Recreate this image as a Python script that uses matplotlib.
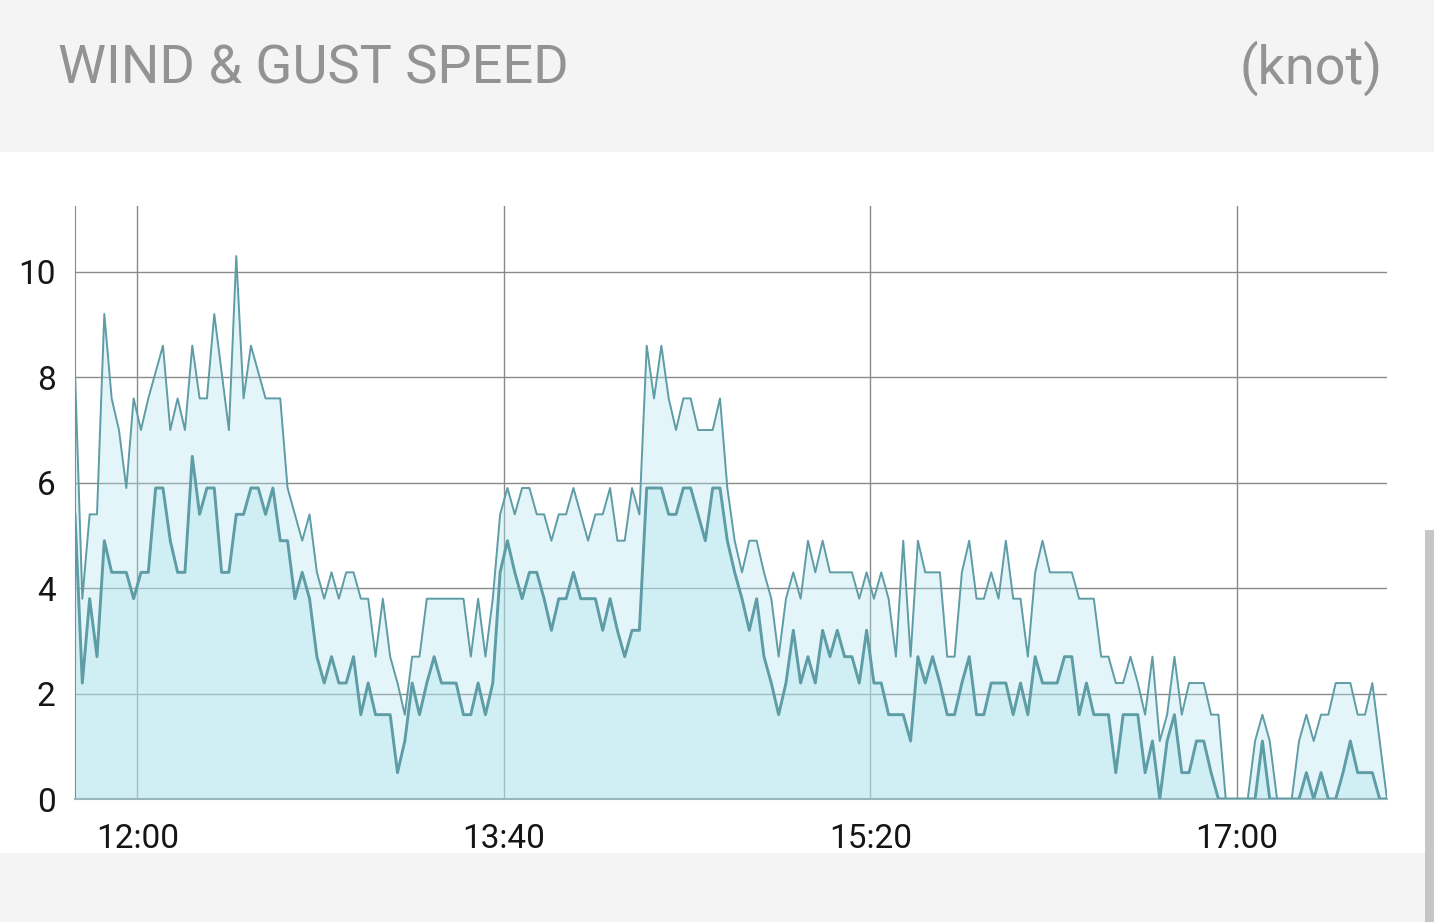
import numpy as np
import pandas as pd
import matplotlib
matplotlib.use('Agg')
import matplotlib.pyplot as plt
import matplotlib.dates as mdates
from matplotlib.patches import Rectangle

# readings every 2 minutes, knots
start_time = '2000-01-01 11:43'
step = '2min'

gust = [8.1, 3.8, 5.4, 5.4, 9.2, 7.6, 7.0, 5.9, 7.6, 7.0,
        7.6, 8.1, 8.6, 7.0, 7.6, 7.0, 8.6, 7.6, 7.6, 9.2,
        8.1, 7.0, 10.3, 7.6, 8.6, 8.1, 7.6, 7.6, 7.6, 5.9,
        5.4, 4.9, 5.4, 4.3, 3.8, 4.3, 3.8, 4.3, 4.3, 3.8,
        3.8, 2.7, 3.8, 2.7, 2.2, 1.6, 2.7, 2.7, 3.8, 3.8,
        3.8, 3.8, 3.8, 3.8, 2.7, 3.8, 2.7, 3.8, 5.4, 5.9,
        5.4, 5.9, 5.9, 5.4, 5.4, 4.9, 5.4, 5.4, 5.9, 5.4,
        4.9, 5.4, 5.4, 5.9, 4.9, 4.9, 5.9, 5.4, 8.6, 7.6,
        8.6, 7.6, 7.0, 7.6, 7.6, 7.0, 7.0, 7.0, 7.6, 5.9,
        4.9, 4.3, 4.9, 4.9, 4.3, 3.8, 2.7, 3.8, 4.3, 3.8,
        4.9, 4.3, 4.9, 4.3, 4.3, 4.3, 4.3, 3.8, 4.3, 3.8,
        4.3, 3.8, 2.7, 4.9, 2.7, 4.9, 4.3, 4.3, 4.3, 2.7,
        2.7, 4.3, 4.9, 3.8, 3.8, 4.3, 3.8, 4.9, 3.8, 3.8,
        2.7, 4.3, 4.9, 4.3, 4.3, 4.3, 4.3, 3.8, 3.8, 3.8,
        2.7, 2.7, 2.2, 2.2, 2.7, 2.2, 1.6, 2.7, 1.1, 1.6,
        2.7, 1.6, 2.2, 2.2, 2.2, 1.6, 1.6, 0, 0, 0,
        0, 1.1, 1.6, 1.1, 0, 0, 0, 1.1, 1.6, 1.1,
        1.6, 1.6, 2.2, 2.2, 2.2, 1.6, 1.6, 2.2, 1.1, 0]

wind = [5.4, 2.2, 3.8, 2.7, 4.9, 4.3, 4.3, 4.3, 3.8, 4.3,
        4.3, 5.9, 5.9, 4.9, 4.3, 4.3, 6.5, 5.4, 5.9, 5.9,
        4.3, 4.3, 5.4, 5.4, 5.9, 5.9, 5.4, 5.9, 4.9, 4.9,
        3.8, 4.3, 3.8, 2.7, 2.2, 2.7, 2.2, 2.2, 2.7, 1.6,
        2.2, 1.6, 1.6, 1.6, 0.5, 1.1, 2.2, 1.6, 2.2, 2.7,
        2.2, 2.2, 2.2, 1.6, 1.6, 2.2, 1.6, 2.2, 4.3, 4.9,
        4.3, 3.8, 4.3, 4.3, 3.8, 3.2, 3.8, 3.8, 4.3, 3.8,
        3.8, 3.8, 3.2, 3.8, 3.2, 2.7, 3.2, 3.2, 5.9, 5.9,
        5.9, 5.4, 5.4, 5.9, 5.9, 5.4, 4.9, 5.9, 5.9, 4.9,
        4.3, 3.8, 3.2, 3.8, 2.7, 2.2, 1.6, 2.2, 3.2, 2.2,
        2.7, 2.2, 3.2, 2.7, 3.2, 2.7, 2.7, 2.2, 3.2, 2.2,
        2.2, 1.6, 1.6, 1.6, 1.1, 2.7, 2.2, 2.7, 2.2, 1.6,
        1.6, 2.2, 2.7, 1.6, 1.6, 2.2, 2.2, 2.2, 1.6, 2.2,
        1.6, 2.7, 2.2, 2.2, 2.2, 2.7, 2.7, 1.6, 2.2, 1.6,
        1.6, 1.6, 0.5, 1.6, 1.6, 1.6, 0.5, 1.1, 0, 1.1,
        1.6, 0.5, 0.5, 1.1, 1.1, 0.5, 0, 0, 0, 0,
        0, 0, 1.1, 0, 0, 0, 0, 0, 0.5, 0,
        0.5, 0, 0, 0.5, 1.1, 0.5, 0.5, 0.5, 0, 0]

tick_times = ['12:00', '13:40', '15:20', '17:00']
y_ticks = [0, 2, 4, 6, 8, 10]

times = pd.date_range(start_time, periods=len(gust), freq=step)

plt.rcParams['font.family'] = ['Roboto', 'DejaVu Sans']

fig = plt.figure(figsize=(14.34, 9.22), dpi=100)
fig.patch.set_facecolor('white')

# header / footer bands, scrollbar
fig.patches.append(Rectangle((0, 0.8351), 1, 0.17, transform=fig.transFigure,
                             facecolor='#f4f4f4', edgecolor='none', zorder=0))
fig.patches.append(Rectangle((0, 0), 0.9944, 0.0748, transform=fig.transFigure,
                             facecolor='#f4f4f4', edgecolor='none', zorder=0))
fig.patches.append(Rectangle((0.9937, 0), 0.01, 0.4252, transform=fig.transFigure,
                             facecolor='#c6c6c6', edgecolor='none', zorder=0))

fig.text(58 / 1434, 1 - 84 / 922, 'WIND & GUST SPEED', fontsize=39,
         color='#939393', ha='left', va='baseline')
fig.text(1383 / 1434, 1 - 84 / 922, '(knot)', fontsize=39,
         color='#939393', ha='right', va='baseline')

ax = fig.add_axes([75 / 1434, 123 / 922, 1312 / 1434, 593 / 922])
ax.set_facecolor('none')

fill_col = '#afe5ee'
line_col = '#5e9ca6'
ax.fill_between(times, 0, gust, color=fill_col, alpha=0.35, lw=0, zorder=2)
ax.fill_between(times, 0, wind, color=fill_col, alpha=0.35, lw=0, zorder=2)
ax.plot(times, gust, color=line_col, lw=1.4, zorder=3)
ax.plot(times, wind, color=line_col, lw=2.1, zorder=3)

ax.set_xlim(times[0], times[-1])
ax.set_ylim(0, 11.25)
ax.set_yticks(y_ticks)
ax.set_xticks(pd.to_datetime(['2000-01-01 ' + t for t in tick_times]))
ax.xaxis.set_major_formatter(mdates.DateFormatter('%H:%M'))

ax.grid(True, color='#8a8a8a', lw=1.0, zorder=1)
ax.set_axisbelow(True)
ax.tick_params(length=0, labelsize=24, labelcolor='#151515')
ax.tick_params(axis='y', pad=14)
ax.tick_params(axis='x', pad=17)

for s in ['top', 'right']:
    ax.spines[s].set_visible(False)
ax.spines['left'].set_color('#8a8a8a')
ax.spines['bottom'].set_color('#9ab6bc')
ax.spines['bottom'].set_linewidth(1.5)

fig.savefig('out.png', dpi=100)
